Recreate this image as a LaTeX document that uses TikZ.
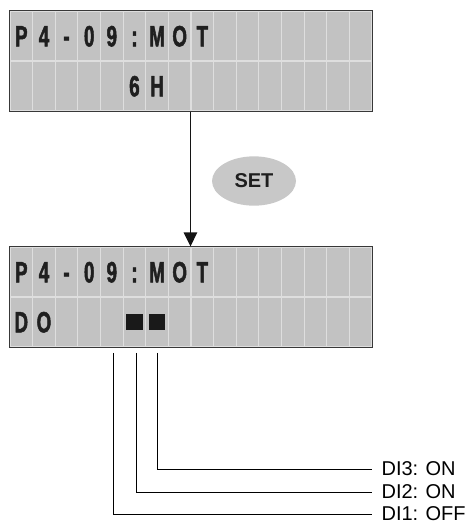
\documentclass[tikz,border=0pt]{standalone}
\usepackage{fontspec}
\setmainfont{Liberation Sans}
\newfontfamily\lcdfont[FakeStretch=0.64, FakeBold=1.6]{Liberation Sans Bold}
\usetikzlibrary{arrows.meta,positioning,calc,shapes.geometric}

\definecolor{lcdgray}{RGB}{194,194,194}
\definecolor{gridgray}{RGB}{222,222,222}
\definecolor{keygray}{RGB}{200,200,200}

\begin{document}
\begin{tikzpicture}[
  x=0.75pt, y=-0.75pt,
  >={Triangle[length=10.5pt, width=10pt]},
  lcdcell/.style={rectangle, draw=gridgray, line width=0.8pt, fill=lcdgray,
                  minimum width=16.97pt, minimum height=37.5pt, inner sep=0pt},
  lcdchar/.style={font=\lcdfont\fontsize{22}{26}\selectfont,
                  text=black!88, inner sep=0pt, text height=15.5pt, text depth=0pt},
  lcdframe/.style={draw=black!78, line width=1.2pt},
  blk/.style={rectangle, fill=black!90, minimum width=12.5pt,
              minimum height=12pt, inner sep=0pt},
  setkey/.style={ellipse, fill=keygray, minimum width=63pt, minimum height=37pt,
                 inner sep=0pt, font=\bfseries\fontsize{15}{18}\selectfont,
                 text=black!88},
  flow/.style={->, line width=1.1pt, black!92},
  leader/.style={line width=0.7pt, black},
  dilab/.style={anchor=west, inner xsep=7pt, inner ysep=0pt, text depth=0pt,
                font=\fontsize{15}{18}\selectfont}
]
\useasboundingbox (0,0) rectangle (475,525);

% ---------- LCD cells ----------
\foreach \r in {1,2}
  \foreach \c in {0,...,15} {
    \node[lcdcell] (T\r-\c) at ({10+(\c+0.5)*22.625},{11+(\r-0.5)*50}) {};
    \node[lcdcell] (B\r-\c) at ({10+(\c+0.5)*22.625},{247+(\r-0.5)*50}) {};
  }
\draw[lcdframe] (T1-0.north west) rectangle (T2-15.south east);
\draw[lcdframe] (B1-0.north west) rectangle (B2-15.south east);

% ---------- Characters ----------
\foreach \c/\t in {0/P,1/4,2/-,3/0,4/9,5/:,6/M,7/O,8/T} {
  \node[lcdchar] (ta\c) at (T1-\c) {\t};
  \node[lcdchar] (ba\c) at (B1-\c) {\t};
}
\node[lcdchar] (tb5) at (T2-5) {6};
\node[lcdchar] (tb6) at (T2-6) {H};
\node[lcdchar] (bb0) at (B2-0) {D};
\node[lcdchar] (bb1) at (B2-1) {O};
\node[blk] (blk5) at (B2-5) {};
\node[blk] (blk6) at (B2-6) {};

% ---------- SET key ----------
\draw[flow] (T2-8.south west) -- (B1-8.north west);
\node[setkey] (set) at (254,181) {SET};

% ---------- DI labels ----------
\node[dilab] (di3) at (372,469) {DI3: ON};
\node[dilab] (di2) at (372,492) {DI2: ON};
\node[dilab] (di1) at (372,514) {DI1: OFF};

\draw[leader] ([xshift=1.5pt, yshift=-4pt]B2-4.south) |- (di1.west);
\draw[leader] ([xshift=1.5pt, yshift=-4pt]B2-5.south) |- (di2.west);
\draw[leader] ([yshift=-4pt]B2-6.south) |- (di3.west);

\end{tikzpicture}
\end{document}
